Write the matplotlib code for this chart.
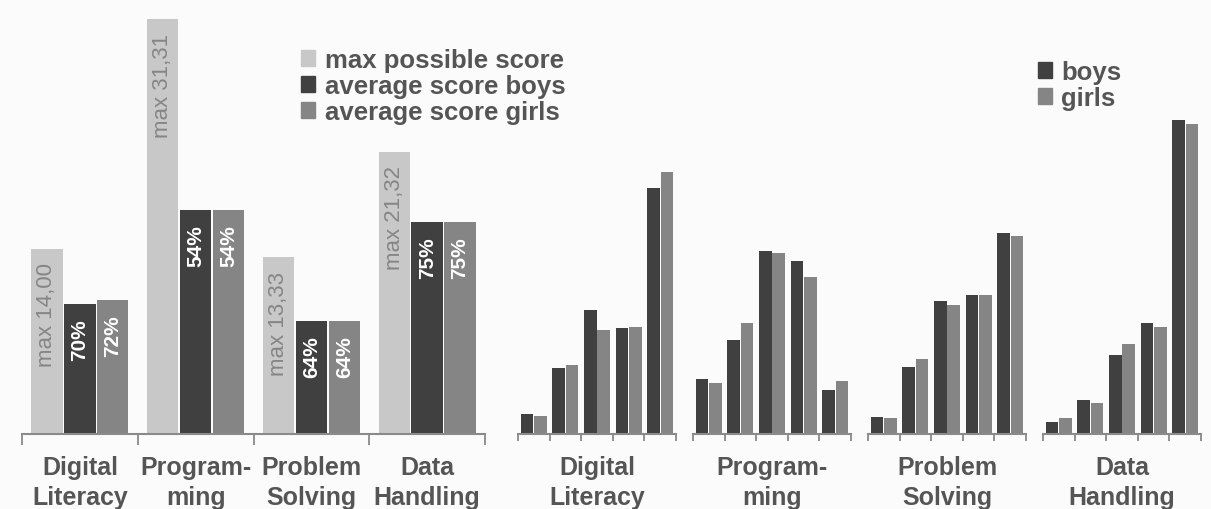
import matplotlib
matplotlib.use("Agg")
import matplotlib.pyplot as plt
from matplotlib.patches import Patch
import numpy as np

plt.rcParams['font.family'] = ['Liberation Sans', 'DejaVu Sans']

# datos del grafico izquierdo
categorias = ["Digital\nLiteracy", "Program-\nming", "Problem\nSolving", "Data\nHandling"]
max_puntaje = [14.00, 31.31, 13.33, 21.32]
pct_chicos = [70, 54, 64, 75]
pct_chicas = [72, 54, 64, 75]

# datos del grafico derecho (porcentaje de alumnos por banda)
chicos_dist = [[3.6, 11.9, 22.3, 19.1, 44.3],
               [9.9, 17.0, 32.9, 31.2, 8.0],
               [3.1, 12.1, 24.0, 25.0, 36.2],
               [2.2, 6.2, 14.3, 20.0, 56.6]]
chicas_dist = [[3.2, 12.5, 18.7, 19.2, 47.2],
               [9.2, 20.0, 32.6, 28.2, 9.5],
               [2.8, 13.5, 23.3, 25.0, 35.7],
               [2.8, 5.5, 16.2, 19.2, 55.9]]

C_CLARO = '#c8c8c8'
C_OSCURO = '#404040'
C_MEDIO = '#858585'
C_TEXTO = '#555555'
FONDO = '#fbfbfb'

W, H = 1211, 510
fig = plt.figure(figsize=(W / 100, H / 100), dpi=100, facecolor=FONDO)


def px_axes(x0, x1, y_top, y_base):
    return fig.add_axes([x0 / W, 1 - y_base / H, (x1 - x0) / W, (y_base - y_top) / H])


def estilo_eje(ax, n, etiqueta_pos, etiquetas, largo_tick):
    ax.set_facecolor('none')
    for s in ['top', 'right', 'left']:
        ax.spines[s].set_visible(False)
    ax.spines['bottom'].set_color('#8a8a8a')
    ax.spines['bottom'].set_linewidth(1.5)
    ax.set_yticks([])
    ax.set_xlim(-0.5, n - 0.5)
    ax.set_xticks(etiqueta_pos)
    ax.set_xticklabels(etiquetas, fontsize=18, fontweight='bold', color=C_TEXTO,
                       linespacing=1.32)
    ax.tick_params(axis='x', which='major', length=0, pad=15)
    ax.set_xticks(np.arange(n + 1) - 0.5, minor=True)
    ax.tick_params(axis='x', which='minor', length=largo_tick, width=1.3, color='#8a8a8a')


# ---- grafico izquierdo ----
ax1 = px_axes(22, 485, 0, 435)
x = np.arange(len(categorias))
paso, ancho = 0.285, 0.27
chicos = [m * p / 100 for m, p in zip(max_puntaje, pct_chicos)]
chicas = [m * p / 100 for m, p in zip(max_puntaje, pct_chicas)]
ax1.bar(x - paso, max_puntaje, ancho, color=C_CLARO)
ax1.bar(x, chicos, ancho, color=C_OSCURO)
ax1.bar(x + paso, chicas, ancho, color=C_MEDIO)
ax1.set_ylim(0, 435 / 13.25)
estilo_eje(ax1, len(categorias), x, categorias, 8)

for i in range(len(categorias)):
    ax1.annotate("max " + f"{max_puntaje[i]:.2f}".replace('.', ','),
                 (x[i] - paso, max_puntaje[i]), xytext=(0, -10), textcoords='offset points',
                 rotation=90, ha='center', va='top', fontsize=16, color='#858585')
    ax1.annotate(f"{pct_chicos[i]}%", (x[i], chicos[i]), xytext=(0, -10),
                 textcoords='offset points', rotation=90, ha='center', va='top',
                 fontsize=15, fontweight='bold', color='white')
    ax1.annotate(f"{pct_chicas[i]}%", (x[i] + paso, chicas[i]), xytext=(0, -10),
                 textcoords='offset points', rotation=90, ha='center', va='top',
                 fontsize=15, fontweight='bold', color='white')

fig.legend(handles=[Patch(color=C_CLARO), Patch(color=C_OSCURO), Patch(color=C_MEDIO)],
           labels=["max possible score", "average score boys", "average score girls"],
           loc='upper left', bbox_to_anchor=(301 / W, 1 - 49 / H), frameon=False,
           prop={'size': 18.5, 'weight': 'bold'}, labelcolor=C_TEXTO,
           handlelength=0.55, handleheight=0.55, handletextpad=0.4, labelspacing=0.08,
           borderpad=0, borderaxespad=0)

# ---- grafico derecho ----
for g in range(len(categorias)):
    x0 = 518 + g * 175
    ax = px_axes(x0, x0 + 158, 0, 435)
    pos = np.arange(5)
    ax.bar(pos - 0.21, chicos_dist[g], 0.4, color=C_OSCURO)
    ax.bar(pos + 0.21, chicas_dist[g], 0.4, color=C_MEDIO)
    ax.set_ylim(0, 435 / 5.55)
    estilo_eje(ax, 5, [2], [categorias[g]], 5)

fig.legend(handles=[Patch(color=C_OSCURO), Patch(color=C_MEDIO)],
           labels=["boys", "girls"],
           loc='upper left', bbox_to_anchor=(1038 / W, 1 - 61 / H), frameon=False,
           prop={'size': 18.5, 'weight': 'bold'}, labelcolor=C_TEXTO,
           handlelength=0.55, handleheight=0.55, handletextpad=0.35, labelspacing=0.08,
           borderpad=0, borderaxespad=0)

fig.savefig("out.png", dpi=100, facecolor=FONDO)
